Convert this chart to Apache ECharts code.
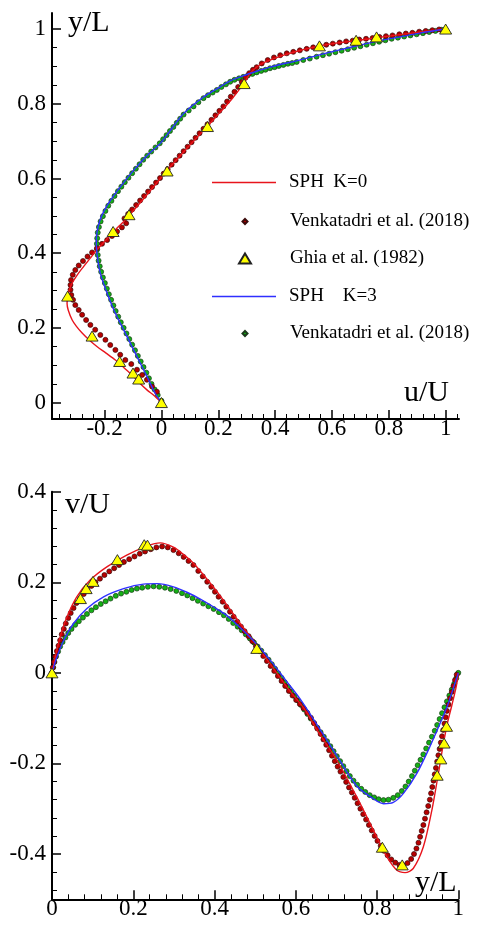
<!DOCTYPE html>
<html>
<head>
<meta charset="utf-8">
<script src="https://cdn.jsdelivr.net/npm/echarts@6/dist/echarts.min.js"></script>
<style>
html,body{margin:0;padding:0;background:#fff;}
#chart{width:480px;height:925px;}
</style>
</head>
<body>
<div id="chart"></div>
<script>
// ---------- tick values ----------
const uMajorTicks = [-0.2, 0, 0.2, 0.4, 0.6, 0.8, 1];
const uMinorTicks = [-0.36,-0.32,-0.28,-0.24,-0.16,-0.12,-0.08,-0.04,0.04,0.08,0.12,0.16,0.24,0.28,0.32,0.36,0.44,0.48,0.52,0.56,0.64,0.68,0.72,0.76,0.84,0.88,0.92,0.96,1.04];
const yTopMajorTicks = [0, 0.2, 0.4, 0.6, 0.8, 1];
const yTopMinorTicks = [0.05,0.1,0.15,0.25,0.3,0.35,0.45,0.5,0.55,0.65,0.7,0.75,0.85,0.9,0.95];
const xBotMajorTicks = [0, 0.2, 0.4, 0.6, 0.8, 1];
const xBotMinorTicks = [0.04,0.08,0.12,0.16,0.24,0.28,0.32,0.36,0.44,0.48,0.52,0.56,0.64,0.68,0.72,0.76,0.84,0.88,0.92,0.96];
const vMajorTicks = [-0.4, -0.2, 0, 0.2, 0.4];
const vMinorTicks = [-0.48,-0.44,-0.36,-0.32,-0.28,-0.24,-0.16,-0.12,-0.08,-0.04,0.04,0.08,0.12,0.16,0.24,0.28,0.32,0.36];

// ---------- series names ----------
const nameSphK0 = 'SPH  K=0';
const nameVenkK0 = 'Venkatadri et al. (2018)';
const nameGhia = 'Ghia et al. (1982)';
const nameSphK3 = 'SPH    K=3';
const nameVenkK3 = 'Venkatadri et al. (2018) K=3';

// ---------- top panel: [u/U, y/L] ----------
const uSphK0 = [[0,0],[-0.025,0.018],[-0.051,0.034],[-0.075,0.051],[-0.098,0.07],[-0.13,0.092],[-0.162,0.114],[-0.196,0.133],[-0.227,0.15],[-0.255,0.168],[-0.279,0.186],[-0.299,0.204],[-0.314,0.221],[-0.328,0.248],[-0.332,0.265],[-0.33,0.284],[-0.324,0.302],[-0.314,0.32],[-0.296,0.342],[-0.274,0.364],[-0.251,0.386],[-0.227,0.409],[-0.2,0.431],[-0.174,0.453],[-0.15,0.472],[-0.127,0.489],[-0.112,0.502],[-0.068,0.541],[-0.024,0.581],[0.019,0.621],[0.066,0.661],[0.113,0.7],[0.162,0.74],[0.206,0.777],[0.245,0.81],[0.277,0.841],[0.29,0.855],[0.312,0.881],[0.333,0.897],[0.36,0.91],[0.393,0.92],[0.43,0.93],[0.465,0.938],[0.51,0.947],[0.556,0.955],[0.62,0.963],[0.686,0.969],[0.76,0.977],[0.84,0.985],[0.91,0.992],[1,1]];

const uVenkK0 = [[0,0],[-0.016,0.029],[-0.033,0.043],[-0.051,0.061],[-0.068,0.074],[-0.086,0.088],[-0.106,0.103],[-0.127,0.114],[-0.145,0.128],[-0.162,0.141],[-0.18,0.154],[-0.197,0.168],[-0.215,0.181],[-0.233,0.195],[-0.25,0.208],[-0.265,0.221],[-0.279,0.235],[-0.291,0.248],[-0.303,0.261],[-0.311,0.275],[-0.317,0.288],[-0.32,0.302],[-0.32,0.315],[-0.318,0.328],[-0.312,0.342],[-0.303,0.355],[-0.291,0.367],[-0.276,0.379],[-0.26,0.391],[-0.244,0.402],[-0.227,0.413],[-0.209,0.425],[-0.191,0.435],[-0.174,0.446],[-0.156,0.458],[-0.139,0.469],[-0.124,0.48],[-0.13,0.493],[-0.117,0.505],[-0.103,0.517],[-0.089,0.529],[-0.075,0.541],[-0.061,0.553],[-0.047,0.565],[-0.033,0.577],[-0.019,0.589],[-0.005,0.601],[0.008,0.613],[0.022,0.625],[0.036,0.637],[0.05,0.649],[0.064,0.661],[0.078,0.673],[0.092,0.685],[0.106,0.697],[0.12,0.709],[0.134,0.721],[0.148,0.733],[0.162,0.745],[0.176,0.757],[0.19,0.769],[0.204,0.781],[0.218,0.793],[0.231,0.806],[0.244,0.819],[0.257,0.832],[0.27,0.845],[0.283,0.858],[0.296,0.87],[0.309,0.882],[0.322,0.891],[0.335,0.898],[0.353,0.908],[0.374,0.917],[0.396,0.924],[0.418,0.93],[0.441,0.935],[0.464,0.939],[0.487,0.943],[0.511,0.947],[0.534,0.951],[0.557,0.955],[0.58,0.958],[0.603,0.961],[0.627,0.964],[0.65,0.967],[0.673,0.969],[0.696,0.972],[0.72,0.974],[0.743,0.976],[0.767,0.979],[0.79,0.981],[0.813,0.983],[0.837,0.986],[0.86,0.988],[0.883,0.99],[0.907,0.993],[0.93,0.995],[0.953,0.997],[0.977,0.999]];

const uGhia = [[1,1],[0.757,0.979],[0.685,0.97],[0.556,0.955],[0.291,0.854],[0.162,0.739],[0.02,0.62],[-0.114,0.503],[-0.17,0.458],[-0.33,0.285],[-0.244,0.178],[-0.147,0.11],[-0.1,0.079],[-0.08,0.063],[0,0]];

const uSphK3 = [[0,0],[-0.022,0.025],[-0.051,0.07],[-0.086,0.123],[-0.127,0.186],[-0.162,0.239],[-0.191,0.293],[-0.215,0.346],[-0.227,0.4],[-0.229,0.435],[-0.218,0.484],[-0.194,0.524],[-0.162,0.56],[-0.131,0.591],[-0.092,0.627],[-0.051,0.661],[-0.004,0.694],[0.038,0.735],[0.078,0.774],[0.148,0.818],[0.195,0.84],[0.242,0.861],[0.288,0.875],[0.335,0.887],[0.382,0.898],[0.429,0.907],[0.476,0.915],[0.546,0.929],[0.62,0.943],[0.698,0.957],[0.768,0.969],[0.839,0.979],[0.909,0.989],[1,1]];

const uVenkK3 = [[0,0.005],[-0.013,0.02],[-0.024,0.035],[-0.035,0.05],[-0.044,0.065],[-0.053,0.08],[-0.063,0.095],[-0.073,0.11],[-0.083,0.125],[-0.093,0.14],[-0.103,0.155],[-0.113,0.17],[-0.123,0.185],[-0.133,0.2],[-0.143,0.215],[-0.152,0.23],[-0.161,0.245],[-0.169,0.26],[-0.177,0.275],[-0.185,0.29],[-0.192,0.305],[-0.199,0.32],[-0.206,0.335],[-0.212,0.35],[-0.217,0.365],[-0.221,0.38],[-0.224,0.395],[-0.226,0.41],[-0.227,0.425],[-0.226,0.44],[-0.224,0.455],[-0.22,0.47],[-0.214,0.485],[-0.206,0.499],[-0.197,0.513],[-0.187,0.527],[-0.176,0.54],[-0.165,0.553],[-0.153,0.566],[-0.141,0.578],[-0.129,0.59],[-0.116,0.602],[-0.103,0.614],[-0.09,0.626],[-0.077,0.638],[-0.064,0.65],[-0.05,0.661],[-0.036,0.672],[-0.021,0.683],[-0.006,0.694],[0.006,0.705],[0.018,0.716],[0.03,0.727],[0.042,0.738],[0.054,0.749],[0.066,0.76],[0.078,0.771],[0.096,0.782],[0.113,0.793],[0.13,0.804],[0.148,0.815],[0.164,0.823],[0.18,0.83],[0.195,0.837],[0.211,0.845],[0.227,0.852],[0.242,0.859],[0.257,0.864],[0.273,0.868],[0.288,0.872],[0.304,0.876],[0.32,0.88],[0.335,0.884],[0.351,0.888],[0.366,0.891],[0.382,0.895],[0.398,0.898],[0.413,0.901],[0.429,0.904],[0.445,0.907],[0.46,0.909],[0.476,0.912],[0.499,0.917],[0.522,0.921],[0.546,0.926],[0.568,0.93],[0.59,0.934],[0.612,0.938],[0.634,0.942],[0.656,0.946],[0.678,0.95],[0.7,0.954],[0.722,0.958],[0.744,0.962],[0.766,0.966],[0.788,0.97],[0.81,0.974],[0.832,0.977],[0.854,0.98],[0.876,0.983],[0.898,0.986],[0.92,0.989],[0.942,0.992],[0.964,0.995],[0.986,0.998]];

// ---------- bottom panel: [y/L, v/U] ----------
const vSphK0 = [[0,0],[0.008,0.035],[0.02,0.079],[0.037,0.124],[0.061,0.168],[0.094,0.205],[0.135,0.234],[0.184,0.26],[0.234,0.28],[0.266,0.287],[0.3,0.277],[0.324,0.261],[0.348,0.242],[0.373,0.216],[0.414,0.17],[0.455,0.119],[0.496,0.07],[0.541,0.015],[0.582,-0.036],[0.623,-0.082],[0.652,-0.126],[0.701,-0.193],[0.75,-0.274],[0.799,-0.362],[0.824,-0.406],[0.849,-0.436],[0.869,-0.441],[0.889,-0.432],[0.914,-0.384],[0.935,-0.303],[0.951,-0.222],[0.962,-0.163],[0.973,-0.112],[0.984,-0.072],[0.995,-0.03],[1,0]];

const vVenkK0 = [[0,0],[0.002,0.012],[0.005,0.024],[0.008,0.036],[0.012,0.048],[0.016,0.06],[0.02,0.072],[0.024,0.085],[0.029,0.097],[0.034,0.109],[0.04,0.121],[0.046,0.132],[0.053,0.143],[0.06,0.154],[0.069,0.164],[0.078,0.174],[0.087,0.183],[0.097,0.192],[0.107,0.2],[0.118,0.208],[0.129,0.216],[0.141,0.224],[0.153,0.231],[0.165,0.238],[0.177,0.245],[0.19,0.251],[0.203,0.257],[0.216,0.263],[0.229,0.268],[0.243,0.273],[0.257,0.277],[0.271,0.279],[0.285,0.277],[0.299,0.271],[0.312,0.264],[0.324,0.256],[0.336,0.247],[0.348,0.238],[0.36,0.225],[0.371,0.213],[0.382,0.201],[0.392,0.19],[0.401,0.179],[0.41,0.168],[0.42,0.157],[0.429,0.146],[0.438,0.135],[0.447,0.124],[0.456,0.113],[0.465,0.102],[0.474,0.092],[0.484,0.081],[0.493,0.07],[0.502,0.059],[0.511,0.048],[0.52,0.037],[0.529,0.026],[0.538,0.015],[0.547,0.004],[0.556,-0.007],[0.565,-0.018],[0.574,-0.029],[0.583,-0.04],[0.592,-0.05],[0.601,-0.06],[0.61,-0.069],[0.619,-0.078],[0.628,-0.088],[0.637,-0.099],[0.645,-0.111],[0.653,-0.123],[0.661,-0.135],[0.668,-0.147],[0.675,-0.159],[0.682,-0.171],[0.689,-0.183],[0.696,-0.195],[0.703,-0.207],[0.71,-0.218],[0.717,-0.23],[0.724,-0.241],[0.731,-0.253],[0.738,-0.264],[0.745,-0.276],[0.752,-0.288],[0.759,-0.3],[0.766,-0.312],[0.773,-0.324],[0.78,-0.336],[0.787,-0.348],[0.794,-0.36],[0.801,-0.371],[0.809,-0.382],[0.817,-0.393],[0.826,-0.403],[0.835,-0.412],[0.845,-0.419],[0.855,-0.424],[0.865,-0.425],[0.875,-0.42],[0.884,-0.411],[0.891,-0.4],[0.897,-0.388],[0.902,-0.375],[0.906,-0.362],[0.91,-0.349],[0.914,-0.336],[0.918,-0.322],[0.922,-0.308],[0.926,-0.294],[0.93,-0.28],[0.933,-0.266],[0.936,-0.252],[0.939,-0.238],[0.942,-0.224],[0.945,-0.21],[0.948,-0.196],[0.951,-0.182],[0.954,-0.168],[0.957,-0.154],[0.96,-0.14],[0.963,-0.126],[0.966,-0.112],[0.969,-0.098],[0.972,-0.084],[0.976,-0.07],[0.98,-0.056],[0.984,-0.042],[0.988,-0.029],[0.992,-0.016],[0.996,-0.004]];

const vGhia = [[0,0],[0.07,0.164],[0.084,0.186],[0.101,0.202],[0.161,0.25],[0.227,0.283],[0.235,0.282],[0.504,0.054],[0.813,-0.385],[0.862,-0.424],[0.948,-0.226],[0.957,-0.19],[0.965,-0.155],[0.971,-0.118]];

const vSphK3 = [[0,0],[0.012,0.035],[0.029,0.072],[0.053,0.109],[0.086,0.142],[0.127,0.168],[0.176,0.186],[0.225,0.196],[0.26,0.197],[0.299,0.19],[0.332,0.178],[0.365,0.163],[0.397,0.146],[0.43,0.127],[0.463,0.1],[0.5,0.067],[0.537,0.028],[0.575,-0.016],[0.611,-0.058],[0.656,-0.12],[0.701,-0.183],[0.75,-0.25],[0.791,-0.278],[0.816,-0.289],[0.84,-0.286],[0.865,-0.266],[0.898,-0.222],[0.93,-0.163],[0.955,-0.112],[0.975,-0.068],[1,0]];

const vVenkK3 = [[0,0],[0.003,0.012],[0.006,0.024],[0.01,0.036],[0.015,0.047],[0.02,0.058],[0.026,0.068],[0.033,0.078],[0.04,0.088],[0.048,0.097],[0.057,0.106],[0.066,0.114],[0.076,0.122],[0.086,0.13],[0.097,0.138],[0.108,0.145],[0.12,0.152],[0.132,0.158],[0.144,0.164],[0.157,0.17],[0.17,0.175],[0.183,0.179],[0.196,0.183],[0.209,0.186],[0.222,0.188],[0.236,0.19],[0.25,0.191],[0.264,0.19],[0.278,0.188],[0.292,0.185],[0.306,0.181],[0.32,0.176],[0.333,0.171],[0.346,0.165],[0.359,0.159],[0.372,0.153],[0.385,0.147],[0.398,0.141],[0.411,0.134],[0.423,0.127],[0.435,0.119],[0.446,0.11],[0.457,0.102],[0.467,0.094],[0.477,0.085],[0.487,0.076],[0.497,0.067],[0.506,0.058],[0.515,0.049],[0.524,0.039],[0.533,0.029],[0.541,0.019],[0.549,0.009],[0.557,-0.001],[0.565,-0.011],[0.573,-0.021],[0.581,-0.031],[0.589,-0.041],[0.597,-0.051],[0.605,-0.061],[0.613,-0.071],[0.621,-0.081],[0.629,-0.091],[0.637,-0.101],[0.645,-0.111],[0.653,-0.121],[0.661,-0.131],[0.669,-0.141],[0.677,-0.151],[0.685,-0.162],[0.693,-0.173],[0.701,-0.184],[0.709,-0.195],[0.717,-0.206],[0.725,-0.217],[0.733,-0.228],[0.742,-0.238],[0.751,-0.247],[0.761,-0.256],[0.771,-0.263],[0.782,-0.27],[0.793,-0.275],[0.804,-0.279],[0.816,-0.281],[0.828,-0.28],[0.84,-0.276],[0.851,-0.27],[0.861,-0.261],[0.87,-0.251],[0.878,-0.24],[0.886,-0.228],[0.893,-0.216],[0.9,-0.204],[0.907,-0.192],[0.914,-0.18],[0.921,-0.167],[0.928,-0.154],[0.935,-0.141],[0.942,-0.128],[0.948,-0.115],[0.954,-0.102],[0.96,-0.089],[0.966,-0.076],[0.972,-0.063],[0.978,-0.05],[0.984,-0.037],[0.99,-0.024],[0.995,-0.012],[1,0]];

// ---------- styling ----------
const FONT = 'Liberation Serif';
const RED = '#e8141c', BLUE = '#2f2fff';
const DOT_RED = '#b80000', DOT_GREEN = '#15b015', YELLOW = '#ffff00';

function axisPair(kind, gridIndex, min, max, major, minor, labelMargin) {
  const pos = kind === 'x' ? 'bottom' : 'left';
  return [
    {
      type: 'value', gridIndex, min, max, position: pos,
      axisLine: { show: true, onZero: false, lineStyle: { color: '#000', width: 2 } },
      axisTick: { show: true, inside: true, length: 9, customValues: major, lineStyle: { color: '#000', width: 1.5 } },
      axisLabel: { show: true, customValues: major, margin: labelMargin, color: '#000', fontFamily: FONT, fontSize: 23 },
      splitLine: { show: false }
    },
    {
      type: 'value', gridIndex, min, max, position: pos,
      axisLine: { show: false, onZero: false },
      axisTick: { show: true, inside: true, length: 5, customValues: minor, lineStyle: { color: '#000', width: 1 } },
      axisLabel: { show: false },
      splitLine: { show: false }
    }
  ];
}

const xAxes = [
  ...axisPair('x', 0, -0.385, 1.047, uMajorTicks, uMinorTicks, -2),
  ...axisPair('x', 1, 0, 1, xBotMajorTicks, xBotMinorTicks, -2)
];
const yAxes = [
  ...axisPair('y', 0, -0.044, 1.043, yTopMajorTicks, yTopMinorTicks, 6),
  ...axisPair('y', 1, -0.5, 0.4, vMajorTicks, vMinorTicks, 6)
];

function lineSeries(name, data, color, xi, yi) {
  return { type: 'line', name, data, xAxisIndex: xi, yAxisIndex: yi, symbol: 'none', showSymbol: false, smooth: 0.3,
    lineStyle: { color, width: 1.4 }, itemStyle: { color }, z: 4, silent: true };
}
function dotSeries(name, data, color, border, xi, yi) {
  return { type: 'scatter', name, data, xAxisIndex: xi, yAxisIndex: yi, symbol: 'circle', symbolSize: 5,
    itemStyle: { color, borderColor: border, borderWidth: 0.7, opacity: 1 }, z: 3, silent: true };
}
function triSeries(name, data, xi, yi) {
  return { type: 'scatter', name, data, xAxisIndex: xi, yAxisIndex: yi, symbol: 'triangle', symbolSize: [12, 10],
    itemStyle: { color: YELLOW, borderColor: '#222', borderWidth: 0.9, opacity: 1 }, z: 5, silent: true };
}

const series = [
  dotSeries(nameVenkK3, uVenkK3, DOT_GREEN, '#1a3a1a', 0, 0),
  dotSeries(nameVenkK0, uVenkK0, DOT_RED, '#3a0a0a', 0, 0),
  lineSeries(nameSphK0, uSphK0, RED, 0, 0),
  lineSeries(nameSphK3, uSphK3, BLUE, 0, 0),
  triSeries(nameGhia, uGhia, 0, 0),
  dotSeries(nameVenkK3, vVenkK3, DOT_GREEN, '#1a3a1a', 2, 2),
  dotSeries(nameVenkK0, vVenkK0, DOT_RED, '#3a0a0a', 2, 2),
  lineSeries(nameSphK0, vSphK0, RED, 2, 2),
  lineSeries(nameSphK3, vSphK3, BLUE, 2, 2),
  triSeries(nameGhia, vGhia, 2, 2)
];

// legend icons (shapes only; sizes come from itemWidth/itemHeight)
const LINE_ICON = 'path://M0,0L64,0L64,1.5L0,1.5Z';
const DIAMOND = 'path://M0,-1L1,0L0,1L-1,0Z';
const TRIANGLE = 'path://M0,0L1.2,2L-1.2,2Z';
const rowCenters = [183, 222, 259, 297, 334];
const ICON_BOX_LEFT = 212, ICON_BOX_W = 64;
function legendRow(i, name, icon, iconW, itemHeight, label) {
  return {
    data: [{ name, icon }],
    left: ICON_BOX_LEFT + (ICON_BOX_W - iconW) / 2,
    top: rowCenters[i] - 10, padding: 0,
    itemWidth: ICON_BOX_W, itemHeight, selectedMode: false,
    formatter: () => label,
    textStyle: { fontFamily: FONT, fontSize: 19, color: '#000', padding: [0, 0, 0, 8] }
  };
}
const legends = [
  legendRow(0, nameSphK0, LINE_ICON, 64, 14, 'SPH  K=0'),
  legendRow(1, nameVenkK0, DIAMOND, 5, 5, 'Venkatadri et al. (2018)'),
  legendRow(2, nameGhia, TRIANGLE, 12, 10, 'Ghia et al. (1982)'),
  legendRow(3, nameSphK3, LINE_ICON, 64, 14, 'SPH    K=3'),
  legendRow(4, nameVenkK3, DIAMOND, 5, 5, 'Venkatadri et al. (2018)')
];

const titleFont = '30px "Liberation Serif"';
const graphic = [
  { type: 'text', left: 68, top: 8, style: { text: 'y/L', font: titleFont, fill: '#000' } },
  { type: 'text', left: 404, top: 378, style: { text: 'u/U', font: titleFont, fill: '#000' } },
  { type: 'text', left: 65, top: 490, style: { text: 'v/U', font: titleFont, fill: '#000' } },
  { type: 'text', left: 415, top: 868, style: { text: 'y/L', font: titleFont, fill: '#000' } }
];

const chart = echarts.init(document.getElementById('chart'), null, { renderer: 'canvas' });
chart.setOption({
  animation: false,
  backgroundColor: '#fff',
  grid: [
    { left: 52, top: 13, width: 407, height: 406 },
    { left: 52, top: 491.7, width: 406.3, height: 407.6 }
  ],
  xAxis: xAxes,
  yAxis: yAxes,
  legend: legends,
  graphic,
  series
});
</script>
</body>
</html>
